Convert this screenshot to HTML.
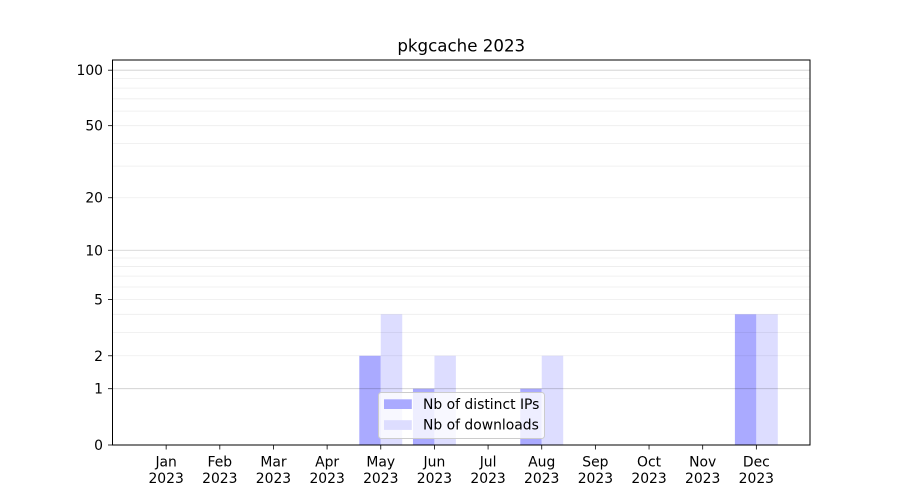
<!DOCTYPE html>
<html><head><meta charset="utf-8"><style>
html,body{margin:0;padding:0;background:#fff;}
svg{display:block;}
text{font-family:"DejaVu Sans","Liberation Sans",sans-serif;fill:#000;}
</style></head><body>
<svg width="900" height="500" viewBox="0 0 900 500" xmlns="http://www.w3.org/2000/svg">
<rect x="0" y="0" width="900" height="500" fill="#fff"/>
<!-- bars -->
<g>
<rect x="359.31" y="355.78" width="21.46" height="89.22" fill="#aaaaff"/>
<rect x="380.77" y="314.29" width="21.46" height="130.71" fill="#ddddff"/>
<rect x="412.96" y="388.71" width="21.46" height="56.29" fill="#aaaaff"/>
<rect x="434.42" y="355.78" width="21.46" height="89.22" fill="#ddddff"/>
<rect x="520.27" y="388.71" width="21.46" height="56.29" fill="#aaaaff"/>
<rect x="541.73" y="355.78" width="21.46" height="89.22" fill="#ddddff"/>
<rect x="734.89" y="314.29" width="21.46" height="130.71" fill="#aaaaff"/>
<rect x="756.35" y="314.29" width="21.46" height="130.71" fill="#ddddff"/>
</g>
<!-- minor grid -->
<g stroke="rgba(0,0,0,0.075)" stroke-width="0.8">
<line x1="112.5" x2="810" y1="355.78" y2="355.78"/>
<line x1="112.5" x2="810" y1="332.41" y2="332.41"/>
<line x1="112.5" x2="810" y1="314.29" y2="314.29"/>
<line x1="112.5" x2="810" y1="299.49" y2="299.49"/>
<line x1="112.5" x2="810" y1="286.97" y2="286.97"/>
<line x1="112.5" x2="810" y1="276.12" y2="276.12"/>
<line x1="112.5" x2="810" y1="266.56" y2="266.56"/>
<line x1="112.5" x2="810" y1="258" y2="258"/>
<line x1="112.5" x2="810" y1="197.74" y2="197.74"/>
<line x1="112.5" x2="810" y1="166.12" y2="166.12"/>
<line x1="112.5" x2="810" y1="143.41" y2="143.41"/>
<line x1="112.5" x2="810" y1="125.68" y2="125.68"/>
<line x1="112.5" x2="810" y1="111.14" y2="111.14"/>
<line x1="112.5" x2="810" y1="98.81" y2="98.81"/>
<line x1="112.5" x2="810" y1="88.11" y2="88.11"/>
<line x1="112.5" x2="810" y1="78.66" y2="78.66"/>
</g>
<!-- major grid -->
<g stroke="rgba(0,0,0,0.2)" stroke-width="0.8">
<line x1="112.5" x2="810" y1="388.71" y2="388.71"/>
<line x1="112.5" x2="810" y1="250.26" y2="250.26"/>
<line x1="112.5" x2="810" y1="70.19" y2="70.19"/>
</g>
<!-- axes frame -->
<rect x="112.5" y="60" width="697.5" height="385" fill="none" stroke="#000" stroke-width="1"/>
<!-- y ticks -->
<g stroke="#000" stroke-width="0.8">
<line x1="108" x2="112.5" y1="445" y2="445"/>
<line x1="108" x2="112.5" y1="388.71" y2="388.71"/>
<line x1="108" x2="112.5" y1="355.78" y2="355.78"/>
<line x1="108" x2="112.5" y1="299.49" y2="299.49"/>
<line x1="108" x2="112.5" y1="250.26" y2="250.26"/>
<line x1="108" x2="112.5" y1="197.74" y2="197.74"/>
<line x1="108" x2="112.5" y1="125.68" y2="125.68"/>
<line x1="108" x2="112.5" y1="70.19" y2="70.19"/>
</g>
<g font-size="13.9" text-anchor="end">
<text x="103" y="450">0</text>
<text x="103" y="393.7">1</text>
<text x="103" y="360.8">2</text>
<text x="103" y="304.5">5</text>
<text x="103" y="255.3">10</text>
<text x="103" y="202.7">20</text>
<text x="103" y="130.7">50</text>
<text x="103" y="75.2">100</text>
</g>
<!-- x ticks -->
<g stroke="#000" stroke-width="0.8">
<line x1="166.15" x2="166.15" y1="445" y2="449.5"/>
<line x1="219.81" x2="219.81" y1="445" y2="449.5"/>
<line x1="273.46" x2="273.46" y1="445" y2="449.5"/>
<line x1="327.12" x2="327.12" y1="445" y2="449.5"/>
<line x1="380.77" x2="380.77" y1="445" y2="449.5"/>
<line x1="434.42" x2="434.42" y1="445" y2="449.5"/>
<line x1="488.08" x2="488.08" y1="445" y2="449.5"/>
<line x1="541.73" x2="541.73" y1="445" y2="449.5"/>
<line x1="595.38" x2="595.38" y1="445" y2="449.5"/>
<line x1="649.04" x2="649.04" y1="445" y2="449.5"/>
<line x1="702.69" x2="702.69" y1="445" y2="449.5"/>
<line x1="756.35" x2="756.35" y1="445" y2="449.5"/>
</g>
<g font-size="13.9" text-anchor="middle">
<text x="166.15" y="466.3">Jan</text><text x="166.15" y="482.8">2023</text>
<text x="219.81" y="466.3">Feb</text><text x="219.81" y="482.8">2023</text>
<text x="273.46" y="466.3">Mar</text><text x="273.46" y="482.8">2023</text>
<text x="327.12" y="466.3">Apr</text><text x="327.12" y="482.8">2023</text>
<text x="380.77" y="466.3">May</text><text x="380.77" y="482.8">2023</text>
<text x="434.42" y="466.3">Jun</text><text x="434.42" y="482.8">2023</text>
<text x="488.08" y="466.3">Jul</text><text x="488.08" y="482.8">2023</text>
<text x="541.73" y="466.3">Aug</text><text x="541.73" y="482.8">2023</text>
<text x="595.38" y="466.3">Sep</text><text x="595.38" y="482.8">2023</text>
<text x="649.04" y="466.3">Oct</text><text x="649.04" y="482.8">2023</text>
<text x="702.69" y="466.3">Nov</text><text x="702.69" y="482.8">2023</text>
<text x="756.35" y="466.3">Dec</text><text x="756.35" y="482.8">2023</text>
</g>
<!-- title -->
<text x="461.25" y="51.7" font-size="16.67" text-anchor="middle">pkgcache 2023</text>
<!-- legend -->
<rect x="378.5" y="392.5" width="166" height="46" rx="2.8" ry="2.8" fill="rgba(255,255,255,0.8)" stroke="#cccccc" stroke-width="1"/>
<rect x="384" y="399.3" width="27.8" height="9.7" fill="#aaaaff"/>
<rect x="384" y="420.2" width="27.8" height="9.7" fill="#ddddff"/>
<g font-size="13.9">
<text x="423" y="408.8">Nb of distinct IPs</text>
<text x="423" y="429.7">Nb of downloads</text>
</g>
</svg>
</body></html>
